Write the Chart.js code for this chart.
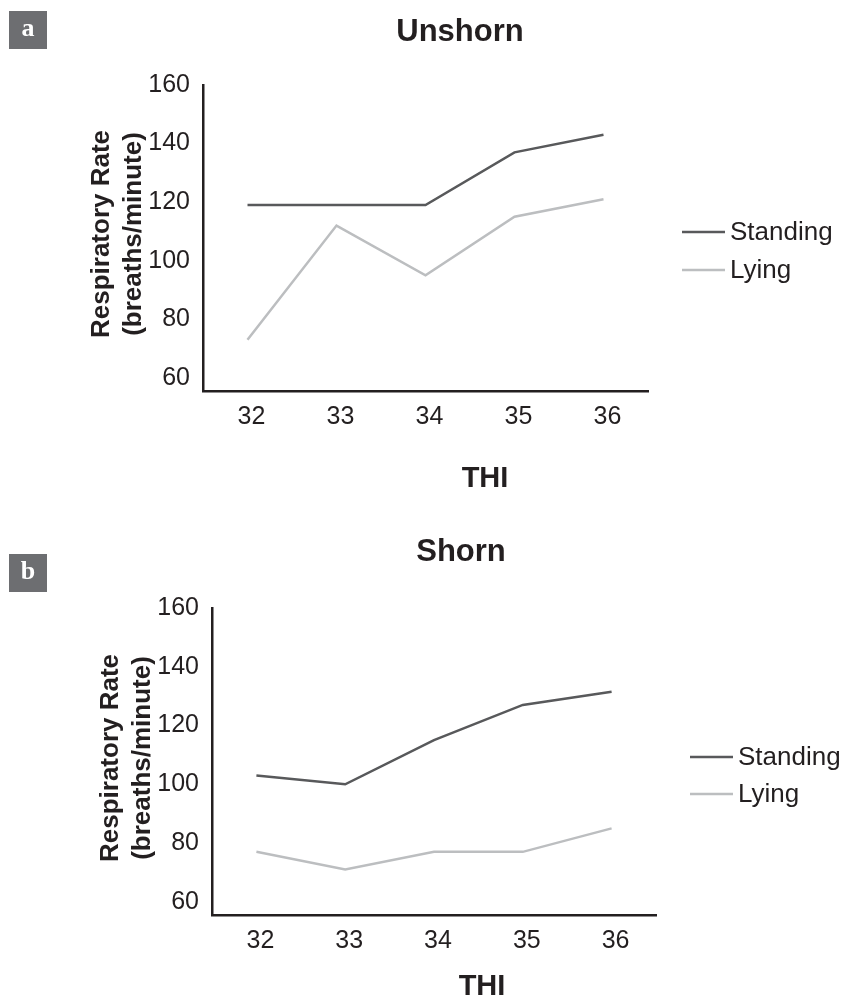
<!DOCTYPE html>
<html>
<head>
<meta charset="utf-8">
<script src="https://cdn.jsdelivr.net/npm/chart.js@4.4.1/dist/chart.umd.min.js"></script>
<style>
    html, body { margin: 0; padding: 0; background: #fff; }
    .panel { position: absolute; left: 0; width: 843px; }
    #top { top: 0; height: 500px; }
    #bottom { top: 500px; height: 497px; }
</style>
</head>
<body>
<div class="panel" id="top"><canvas id="unshornChart" width="843" height="500"></canvas></div>
<div class="panel" id="bottom"><canvas id="shornChart" width="843" height="497"></canvas></div>
<script>
// --- Data ---
const thiLabels = ['32', '33', '34', '35', '36'];
const yTicks = [60, 80, 100, 120, 140, 160];
const seriesNames = ['Standing', 'Lying'];
const unshornStanding = [119, 119, 119, 137, 143];
const unshornLying = [73, 112, 95, 115, 121];
const shornStanding = [103, 100, 115, 127, 131.5];
const shornLying = [77, 71, 77, 77, 85];

const seriesColors = ['#58595b', '#bcbec0'];
const axisColor = '#231f20';
const fontFamily = "'Liberation Sans', Arial, sans-serif";

// --- Decorations: panel letter, title, axis titles, legend ---
const decorPlugin = {
    id: 'decor',
    afterDraw(chart, args, o) {
        const ctx = chart.ctx;
        ctx.save();

        // panel letter box
        ctx.fillStyle = '#6d6e71';
        ctx.fillRect(9, o.letterY, 38, 38);
        ctx.fillStyle = '#fff';
        ctx.font = "bold 26px 'Liberation Serif', 'DejaVu Serif', serif";
        ctx.textAlign = 'center';
        ctx.textBaseline = 'middle';
        ctx.fillText(o.letter, 28, o.letterY + 18);

        ctx.fillStyle = axisColor;
        ctx.font = `bold 31px ${fontFamily}`;
        ctx.fillText(o.title, o.titleX, o.titleY);

        ctx.font = `bold 29px ${fontFamily}`;
        ctx.fillText('THI', o.xTitleX, o.xTitleY);

        // rotated y title, two lines
        ctx.font = `bold 26px ${fontFamily}`;
        ctx.save();
        ctx.translate(o.yTitleX, o.yTitleY);
        ctx.rotate(-Math.PI / 2);
        ctx.fillText('Respiratory Rate', 0, 0);
        ctx.fillText('(breaths/minute)', 0, o.yTitleGap);
        ctx.restore();

        // legend
        ctx.textAlign = 'left';
        ctx.font = `26px ${fontFamily}`;
        chart.data.datasets.forEach((ds, i) => {
            const y = o.legendY + i * o.legendGap;
            ctx.strokeStyle = ds.borderColor;
            ctx.lineWidth = 2.5;
            ctx.beginPath();
            ctx.moveTo(o.legendX, y);
            ctx.lineTo(o.legendX + 43, y);
            ctx.stroke();
            ctx.fillStyle = axisColor;
            ctx.fillText(ds.label, o.legendX + 48, y + 1);
        });
        ctx.restore();
    }
};

function makeChart(canvasId, standing, lying, box, decor) {
    const ctx = document.getElementById(canvasId).getContext('2d');
    return new Chart(ctx, {
        type: 'line',
        data: {
            labels: thiLabels,
            datasets: [
                { label: seriesNames[0], data: standing, borderColor: seriesColors[0], borderWidth: 2.5, pointRadius: 0, tension: 0 },
                { label: seriesNames[1], data: lying, borderColor: seriesColors[1], borderWidth: 2.5, pointRadius: 0, tension: 0 }
            ]
        },
        options: {
            responsive: false,
            animation: false,
            layout: { padding: { left: 0, top: box.top, right: box.right, bottom: 0 } },
            plugins: {
                legend: { display: false },
                tooltip: { enabled: false },
                decor: decor
            },
            scales: {
                x: {
                    offset: true,
                    grid: { display: false, drawTicks: false },
                    border: { display: true, color: axisColor, width: 2.5 },
                    ticks: { color: axisColor, font: { family: fontFamily, size: 25 }, padding: 11, labelOffset: 4 },
                    afterFit: (scale) => { scale.height = box.xHeight; }
                },
                y: {
                    min: 55.5,
                    max: 160,
                    afterBuildTicks: (scale) => { scale.ticks = yTicks.map(v => ({ value: v })); },
                    grid: { display: false, drawTicks: false },
                    border: { display: true, color: axisColor, width: 2.5 },
                    ticks: { color: axisColor, font: { family: fontFamily, size: 25 }, padding: 13 },
                    afterFit: (scale) => { scale.width = box.yWidth; }
                }
            }
        },
        plugins: [decorPlugin]
    });
}

makeChart('unshornChart', unshornStanding, unshornLying,
    { top: 85, right: 195, xHeight: 109, yWidth: 203 },
    { letter: 'a', letterY: 11, title: 'Unshorn', titleX: 460, titleY: 32,
      xTitleX: 485, xTitleY: 479, yTitleX: 102, yTitleY: 234, yTitleGap: 32,
      legendX: 682, legendY: 232, legendGap: 38 });

makeChart('shornChart', shornStanding, shornLying,
    { top: 108, right: 187, xHeight: 82, yWidth: 212 },
    { letter: 'b', letterY: 54, title: 'Shorn', titleX: 461, titleY: 52,
      xTitleX: 482, xTitleY: 487, yTitleX: 111, yTitleY: 258, yTitleGap: 32,
      legendX: 690, legendY: 257, legendGap: 37 });
</script>
</body>
</html>
